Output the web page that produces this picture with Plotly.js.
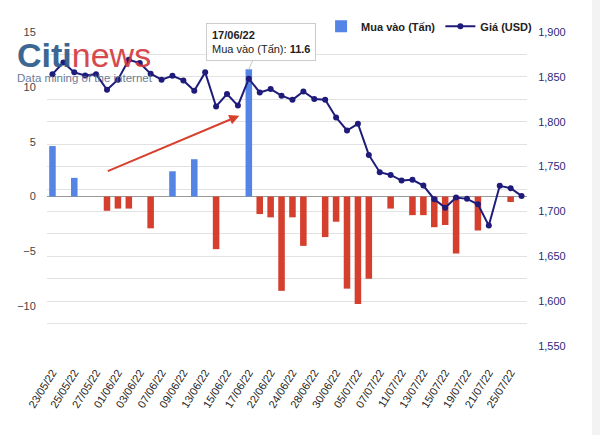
<!DOCTYPE html>
<html>
<head>
<meta charset="utf-8">
<script src="https://cdn.plot.ly/plotly-3.0.1.min.js"></script>
<style>html,body{margin:0;padding:0;background:#fff;}#chart{width:600px;height:435px;}</style>
</head>
<body>
<div id="chart"></div>
<script>
const dates = ['23/05/22','24/05/22','25/05/22','26/05/22','27/05/22','31/05/22','01/06/22','02/06/22','03/06/22','06/06/22','07/06/22','08/06/22','09/06/22','10/06/22','13/06/22','14/06/22','15/06/22','16/06/22','17/06/22','21/06/22','22/06/22','23/06/22','24/06/22','27/06/22','28/06/22','29/06/22','30/06/22','01/07/22','05/07/22','06/07/22','07/07/22','08/07/22','11/07/22','12/07/22','13/07/22','14/07/22','15/07/22','18/07/22','19/07/22','20/07/22','21/07/22','22/07/22','25/07/22','26/07/22'];
const muaVao = [4.6,null,1.7,null,null,null,null,null,null,null,null,2.3,null,3.4,null,null,null,null,11.6,null,null,null,null,null,null,null,null,null,null,null,null,null,null,null,null,null,null,null,null,null,null,null,null,null];
const banRa = [null,null,null,null,null,-1.3,-1.1,-1.1,null,-2.9,null,null,null,null,null,-4.8,null,null,null,-1.6,-1.9,-8.6,-1.9,-4.5,null,-3.7,-2.3,-8.4,-9.8,-7.5,null,-1.1,null,-1.7,-1.7,-2.8,-2.6,-5.2,null,-3.1,null,null,-0.5,null];
const giaUSD = [1853,1866,1855,1851.6,1853,1835.6,1846.8,1869,1865.4,1853.5,1846.8,1851.2,1846,1834.5,1855,1817,1830.8,1818,1848,1832.6,1836.4,1829,1824.4,1833.7,1825.2,1824.4,1804.7,1790.2,1797.7,1763,1743.7,1740.7,1734.4,1735.2,1728.8,1713.6,1704.2,1715.4,1714,1708,1684.2,1728.5,1725.9,1717.3];
const xTickLabels = dates.filter((d,i)=>i%2===0);
const leftTicks = [-10,-5,0,5,10,15];
const priceTicks = [1550,1600,1650,1700,1750,1800,1850,1900];
const priceMinor = [1575,1625,1675,1725,1775,1825,1875];
const names = {ban:'Bán ra (Tấn)', mua:'Mua vào (Tấn)', gia:'Giá (USD)'};
const tipDate = '17/06/22';
const tipIdx = dates.indexOf(tipDate);

const FONT = 'Liberation Sans, Arial, sans-serif';

const traces = [
  {type:'bar', x:dates, y:banRa, name:names.ban, marker:{color:'#d5402e'}, yaxis:'y', showlegend:false},
  {type:'bar', x:dates, y:muaVao, name:names.mua, marker:{color:'#5485e6'}, yaxis:'y'},
  {type:'scatter', mode:'lines+markers', x:dates, y:giaUSD, name:names.gia, yaxis:'y2',
   line:{color:'#1f1b7a', width:2}, marker:{color:'#1f1b7a', size:6}}
];

const layout = {
  width:600, height:435,
  margin:{l:47, r:73, t:32, b:89, pad:0},
  paper_bgcolor:'#ffffff', plot_bgcolor:'rgba(0,0,0,0)',
  font:{family:FONT, color:'#222'},
  barmode:'relative', bargap:0.4,
  showlegend:true,
  legend:{orientation:'h', x:1.021, xanchor:'right', y:1.018, yanchor:'middle',
          font:{size:11, color:'#222', weight:'bold'}, bgcolor:'rgba(0,0,0,0)', traceorder:'normal'},
  xaxis:{type:'category', range:[-0.5, dates.length-0.5], tickmode:'array', tickvals:xTickLabels, ticktext:xTickLabels, tickangle:-58,
         tickfont:{size:11, color:'#222'}, showgrid:false, zeroline:false, showline:false,
         ticks:'outside', ticklen:15, tickcolor:'rgba(0,0,0,0)', automargin:false, fixedrange:true},
  yaxis:{range:[-13.63,15], tickmode:'array', tickvals:leftTicks, showgrid:false,
         zeroline:true, zerolinecolor:'#9a9a9a', zerolinewidth:1,
         tickfont:{size:11, color:'#444'}, ticks:'outside', ticklen:8, tickcolor:'rgba(0,0,0,0)',
         showline:false, automargin:false, fixedrange:true},
  yaxis2:{overlaying:'y', side:'right', range:[1550,1900], tickmode:'array', tickvals:priceTicks,
          tickformat:',d', showgrid:true, gridcolor:'#e2e2e2', gridwidth:1, zeroline:false,
          minor:{tickmode:'array', tickvals:priceMinor, showgrid:true, gridcolor:'#e2e2e2', gridwidth:1, ticks:''},
          tickfont:{size:11, color:'#2b2a7c'}, ticks:'outside', ticklen:8, tickcolor:'rgba(0,0,0,0)',
          showline:false, automargin:false, fixedrange:true},
  shapes:[
    {type:'rect', xref:'paper', yref:'paper', x0:1.1354, x1:1.3, y0:-0.5, y1:1.5,
     fillcolor:'#f3f3f3', line:{width:0}, layer:'below'}
  ],
  annotations:[
    {xref:'paper', yref:'paper', x:-0.0667, y:0.928, xanchor:'left', yanchor:'middle', showarrow:false,
     text:'<span style="color:#2c5b8a"><b>Citi</b></span><span style="color:#d33a40">news</span>',
     font:{family:FONT, size:34}, opacity:0.92},
    {xref:'paper', yref:'paper', x:-0.0667, y:0.855, xanchor:'left', yanchor:'middle', showarrow:false,
     text:'Data mining of the internet', font:{family:FONT, size:11.5, color:'#5b6f8f'}, opacity:0.9},
    {xref:'paper', yref:'paper', x:0.4006, y:0.7332, ax:-133, ay:56, text:'', showarrow:true,
     arrowhead:2, arrowsize:1, arrowwidth:2, arrowcolor:'#d8402e'},
    {xref:'x', yref:'y', x:tipIdx, y:muaVao[tipIdx], ax:12, ay:-27, showarrow:true, arrowhead:0,
     arrowwidth:1, arrowcolor:'#c8c8c8', align:'left',
     text:'<b>'+tipDate+'</b><br>'+names.mua+': <b>'+muaVao[tipIdx]+'</b>',
     font:{family:FONT, size:11, color:'#222'}, bgcolor:'#ffffff', bordercolor:'#cccccc', borderwidth:1, borderpad:5}
  ]
};

Plotly.newPlot('chart', traces, layout, {displayModeBar:false, staticPlot:true});
</script>
</body>
</html>
